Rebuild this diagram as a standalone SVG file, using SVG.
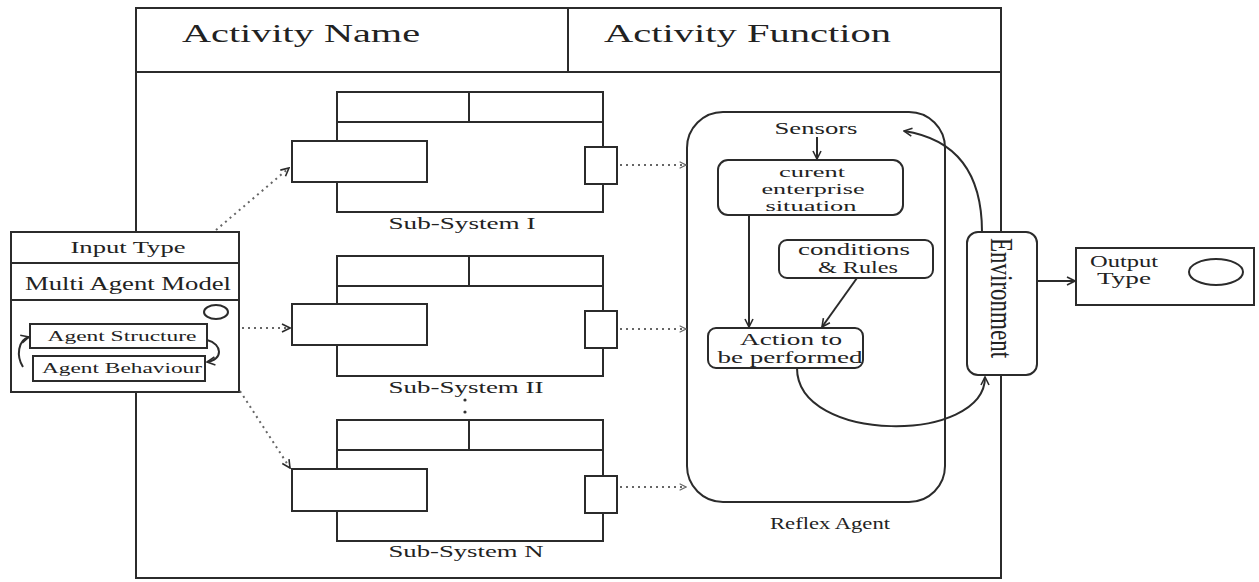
<svg xmlns="http://www.w3.org/2000/svg" width="1259" height="582" viewBox="0 0 1259 582">
<style>
.ln{fill:#fff;stroke:#2b2b2b;stroke-width:2}
.nf{fill:none;stroke:#2b2b2b;stroke-width:2}
.dot{fill:none;stroke:#666;stroke-width:2;stroke-dasharray:2 4}
.t{font-family:"Liberation Serif","Times New Roman",serif;fill:#222}
.c{text-anchor:middle}
</style>
<defs>
<marker id="ah" viewBox="0 0 10 10" refX="9" refY="5" markerWidth="10" markerHeight="10" markerUnits="userSpaceOnUse" orient="auto">
<path d="M1,1 L9,5 L1,9" fill="none" stroke="#2b2b2b" stroke-width="1.6"/>
</marker>
<marker id="ahd" viewBox="0 0 10 10" refX="9" refY="5" markerWidth="8" markerHeight="8" markerUnits="userSpaceOnUse" orient="auto">
<path d="M1,1 L9,5 L1,9" fill="none" stroke="#666" stroke-width="1.4"/>
</marker>
</defs>
<rect width="1259" height="582" fill="#fff"/>

<g id="frame">
<rect class="nf" x="136" y="8" width="865" height="570"/>
<line class="nf" x1="136" y1="72" x2="1001" y2="72"/>
<line class="nf" x1="568" y1="8" x2="568" y2="72"/>
<text class="t" x="182" y="42" font-size="26" textLength="238" lengthAdjust="spacingAndGlyphs">Activity Name</text>
<text class="t" x="604" y="42" font-size="26" textLength="287" lengthAdjust="spacingAndGlyphs">Activity Function</text>
</g>

<g id="input">
<rect class="ln" x="11" y="232" width="228" height="160"/>
<line class="nf" x1="11" y1="263" x2="239" y2="263"/>
<line class="nf" x1="11" y1="300" x2="239" y2="300"/>
<text class="t c" x="128" y="253" font-size="16" textLength="115" lengthAdjust="spacingAndGlyphs">Input Type</text>
<text class="t c" x="128" y="290" font-size="18" textLength="206" lengthAdjust="spacingAndGlyphs">Multi Agent Model</text>
<ellipse class="nf" cx="216" cy="312" rx="12" ry="7"/>
<rect class="ln" x="30" y="324" width="177" height="24"/>
<text class="t c" x="122" y="341" font-size="14" textLength="149" lengthAdjust="spacingAndGlyphs">Agent Structure</text>
<rect class="ln" x="33" y="356" width="172" height="25"/>
<text class="t c" x="122" y="373" font-size="14" textLength="160" lengthAdjust="spacingAndGlyphs">Agent Behaviour</text>
<path class="nf" d="M23,367 C16,356 18,340 29,337" marker-end="url(#ah)"/>
<path class="nf" d="M207,340 C223,344 223,360 207,362" marker-end="url(#ah)"/>
</g>

<g id="subsystem-1">
<rect class="ln" x="337" y="92" width="266" height="120"/>
<line class="nf" x1="337" y1="122" x2="603" y2="122"/>
<line class="nf" x1="469" y1="92" x2="469" y2="122"/>
<rect class="ln" x="292" y="141" width="135" height="41"/>
<rect class="ln" x="585" y="147" width="32" height="37"/>
<text class="t c" x="462" y="229" font-size="17" textLength="147" lengthAdjust="spacingAndGlyphs">Sub-System I</text>
</g>

<g id="subsystem-2">
<rect class="ln" x="337" y="256" width="266" height="120"/>
<line class="nf" x1="337" y1="286" x2="603" y2="286"/>
<line class="nf" x1="469" y1="256" x2="469" y2="286"/>
<rect class="ln" x="292" y="304" width="135" height="41"/>
<rect class="ln" x="585" y="311" width="32" height="37"/>
<text class="t c" x="466" y="393" font-size="17" textLength="155" lengthAdjust="spacingAndGlyphs">Sub-System II</text>
<circle cx="465" cy="400" r="1.6" fill="#333"/>
<circle cx="465" cy="412" r="1.6" fill="#333"/>
</g>

<g id="subsystem-n">
<rect class="ln" x="337" y="420" width="266" height="121"/>
<line class="nf" x1="337" y1="450" x2="603" y2="450"/>
<line class="nf" x1="469" y1="420" x2="469" y2="450"/>
<rect class="ln" x="292" y="469" width="135" height="42"/>
<rect class="ln" x="585" y="476" width="32" height="37"/>
<text class="t c" x="466" y="557" font-size="17" textLength="155" lengthAdjust="spacingAndGlyphs">Sub-System N</text>
</g>

<g id="reflex-agent">
<rect class="nf" x="687" y="112" width="258" height="390" rx="36" ry="36"/>
<text class="t c" x="830" y="529" font-size="17" textLength="120" lengthAdjust="spacingAndGlyphs">Reflex Agent</text>
<text class="t c" x="816" y="134" font-size="17" textLength="83" lengthAdjust="spacingAndGlyphs">Sensors</text>
</g>

<g id="current-situation">
<rect class="ln" x="718" y="160" width="185" height="55" rx="10"/>
<text class="t c" x="812" y="177" font-size="15" textLength="66" lengthAdjust="spacingAndGlyphs">curent</text>
<text class="t c" x="813" y="194" font-size="15" textLength="103" lengthAdjust="spacingAndGlyphs">enterprise</text>
<text class="t c" x="811" y="211" font-size="15" textLength="91" lengthAdjust="spacingAndGlyphs">situation</text>
</g>

<g id="conditions">
<rect class="ln" x="779" y="240" width="154" height="38" rx="8"/>
<text class="t c" x="854" y="255" font-size="17" textLength="112" lengthAdjust="spacingAndGlyphs">conditions</text>
<text class="t c" x="858" y="273" font-size="17" textLength="80" lengthAdjust="spacingAndGlyphs">&amp; Rules</text>
</g>

<g id="action">
<rect class="ln" x="708" y="328" width="155" height="40" rx="8"/>
<text class="t c" x="791" y="345" font-size="16" textLength="102" lengthAdjust="spacingAndGlyphs">Action to</text>
<text class="t c" x="790" y="363" font-size="16" textLength="145" lengthAdjust="spacingAndGlyphs">be performed</text>
</g>

<g id="environment">
<rect class="ln" x="967" y="232" width="70" height="143" rx="11"/>
<text class="t c" transform="translate(1001,298) rotate(90)" x="0" y="10" font-size="32" textLength="120" lengthAdjust="spacingAndGlyphs">Environment</text>
</g>

<g id="output">
<rect class="ln" x="1076" y="248" width="178" height="57"/>
<text class="t c" x="1124" y="267" font-size="17" textLength="68" lengthAdjust="spacingAndGlyphs">Output</text>
<text class="t c" x="1124" y="284" font-size="17" textLength="54" lengthAdjust="spacingAndGlyphs">Type</text>
<ellipse class="nf" cx="1216" cy="272" rx="27" ry="13"/>
</g>

<g id="connectors">
<line class="dot" x1="216" y1="230" x2="289" y2="168" marker-end="url(#ah)"/>
<line class="dot" x1="242" y1="328" x2="290" y2="328" marker-end="url(#ah)"/>
<line class="dot" x1="240" y1="391" x2="290" y2="468" marker-end="url(#ah)"/>
<line class="dot" x1="620" y1="165" x2="686" y2="165" marker-end="url(#ahd)"/>
<line class="dot" x1="620" y1="329" x2="686" y2="329" marker-end="url(#ahd)"/>
<line class="dot" x1="620" y1="487" x2="686" y2="487" marker-end="url(#ahd)"/>
<line class="nf" x1="817" y1="137" x2="817" y2="159" marker-end="url(#ah)"/>
<line class="nf" x1="749" y1="215" x2="749" y2="327" marker-end="url(#ah)"/>
<line class="nf" x1="857" y1="278" x2="822" y2="327" marker-end="url(#ah)"/>
<path class="nf" d="M982,232 C982,180 962,140 904,131" marker-end="url(#ah)"/>
<path class="nf" d="M797,368 C797,444 985,444 985,377" marker-end="url(#ah)"/>
<line class="nf" x1="1037" y1="281" x2="1075" y2="281" marker-end="url(#ah)"/>
</g>
</svg>
